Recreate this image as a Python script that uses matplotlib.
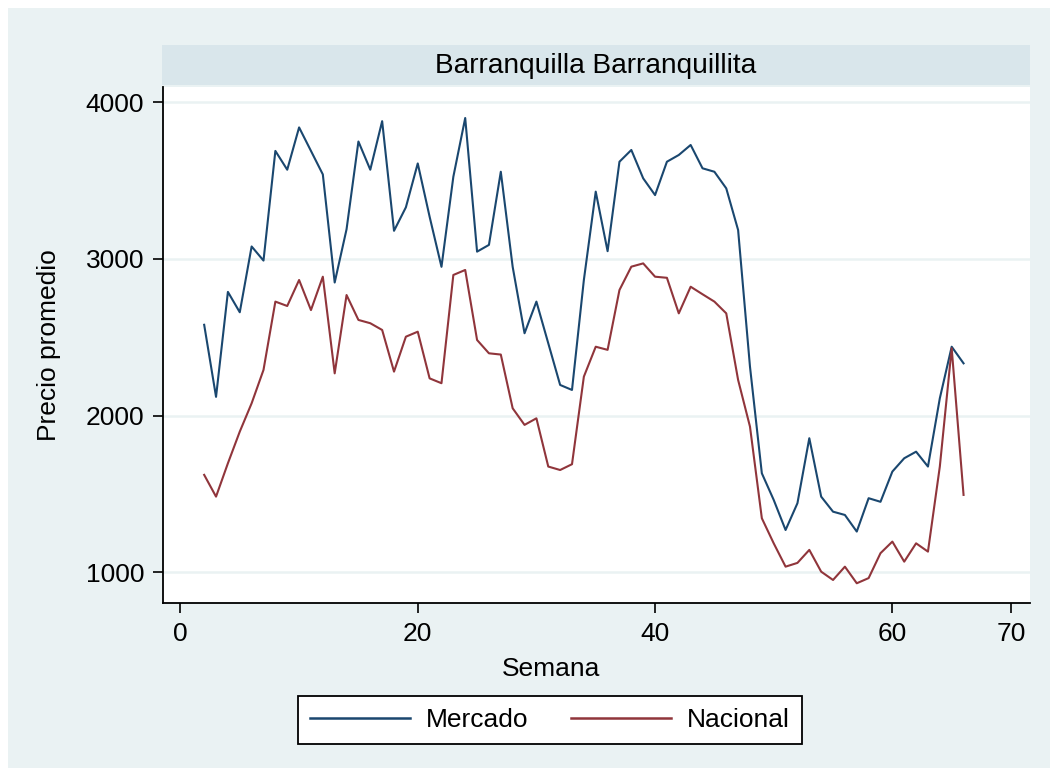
import matplotlib.pyplot as plt
from matplotlib.patches import Rectangle

plt.rcParams["font.family"] = ["Liberation Sans", "DejaVu Sans"]

# weekly average prices
semana = list(range(2, 67))
mercado = [2580, 2120, 2790, 2660, 3080, 2990, 3690, 3570, 3840, 3690,
           3540, 2850, 3190, 3750, 3570, 3880, 3180, 3330, 3610, 3270,
           2950, 3525, 3900, 3047, 3090, 3557, 2950, 2526, 2728, 2462,
           2196, 2164, 2866, 3430, 3050, 3621, 3696, 3515, 3408, 3621,
           3664, 3728, 3579, 3557, 3451, 3185, 2313, 1632, 1462, 1270,
           1441, 1856, 1483, 1387, 1366, 1260, 1473, 1450, 1643, 1728,
           1770, 1675, 2111, 2440, 2334]
nacional = [1622, 1483, 1696, 1898, 2079, 2292, 2728, 2700, 2866, 2674,
            2887, 2270, 2770, 2611, 2590, 2547, 2281, 2504, 2536, 2238,
            2207, 2898, 2930, 2483, 2398, 2390, 2047, 1941, 1983, 1675,
            1653, 1690, 2249, 2440, 2420, 2802, 2951, 2972, 2887, 2880,
            2653, 2823, 2775, 2728, 2653, 2228, 1930, 1345, 1185, 1036,
            1060, 1143, 1004, 951, 1036, 930, 963, 1122, 1196, 1068,
            1185, 1132, 1675, 2430, 1494]
x_ticks = [0, 20, 40, 60, 70]
y_ticks = [1000, 2000, 3000, 4000]
titulo = "Barranquilla Barranquillita"

W, H = 1056, 776
FS = 19

def fx(px):
    return px / W

def fy(py):
    return 1 - py / H

fig = plt.figure(figsize=(W / 100, H / 100), dpi=100, facecolor="white")

# light outer panel like stata's s2color scheme
bg = fig.add_axes([fx(8), fy(768), fx(1050) - fx(8), fy(8) - fy(768)], zorder=-5)
bg.set_facecolor("#EAF2F3")
bg.set_xticks([])
bg.set_yticks([])
for s in bg.spines.values():
    s.set_visible(False)

ax = fig.add_axes([fx(163), fy(603), fx(1030) - fx(163), fy(87) - fy(603)])
ax.set_facecolor("white")

# header strip
strip = fig.add_axes([fx(162), fy(85), fx(1030) - fx(162), fy(45) - fy(85)])
strip.set_facecolor("#D9E6EB")
strip.set_xticks([])
strip.set_yticks([])
for s in strip.spines.values():
    s.set_visible(False)
strip.text(0.5, 0.48, titulo, ha="center", va="center", fontsize=20.2,
           transform=strip.transAxes)

ax.plot(semana, mercado, color="#1A476F", lw=1.5, label="Mercado")
ax.plot(semana, nacional, color="#90353B", lw=1.5, label="Nacional")

ax.set_xlim(-1.47, 71.6)
ax.set_ylim(804, 4098)
ax.set_xticks(x_ticks)
ax.set_yticks(y_ticks)
ax.grid(axis="y", color="#EAF2F3", lw=1.8)
ax.set_axisbelow(True)

for s in ["top", "right"]:
    ax.spines[s].set_visible(False)
for s in ["left", "bottom"]:
    ax.spines[s].set_color("black")
    ax.spines[s].set_linewidth(1.3)

ax.tick_params(axis="both", direction="out", length=7.5, width=1.2,
               labelsize=FS, colors="black")
ax.tick_params(axis="x", pad=6)
ax.tick_params(axis="y", pad=6)
ax.set_xlabel("Semana", fontsize=FS)
ax.xaxis.set_label_coords((551 - 163) / 867, (603 - 657) / 516, transform=ax.transAxes)
ax.xaxis.label.set_va("top")
ax.set_ylabel("Precio promedio", fontsize=FS, labelpad=18)

handles, labels = ax.get_legend_handles_labels()
leg = fig.legend(handles, labels, loc="center", ncol=2,
                 bbox_to_anchor=(fx(550), fy(720)), fontsize=FS,
                 frameon=True, fancybox=False, edgecolor="black",
                 framealpha=1, handlelength=3.8, columnspacing=1.6,
                 handletextpad=0.6, borderpad=0.45)
leg.get_frame().set_linewidth(1.3)
for line in leg.get_lines():
    line.set_linewidth(1.8)

fig.savefig("out.png", dpi=100, facecolor="white")
